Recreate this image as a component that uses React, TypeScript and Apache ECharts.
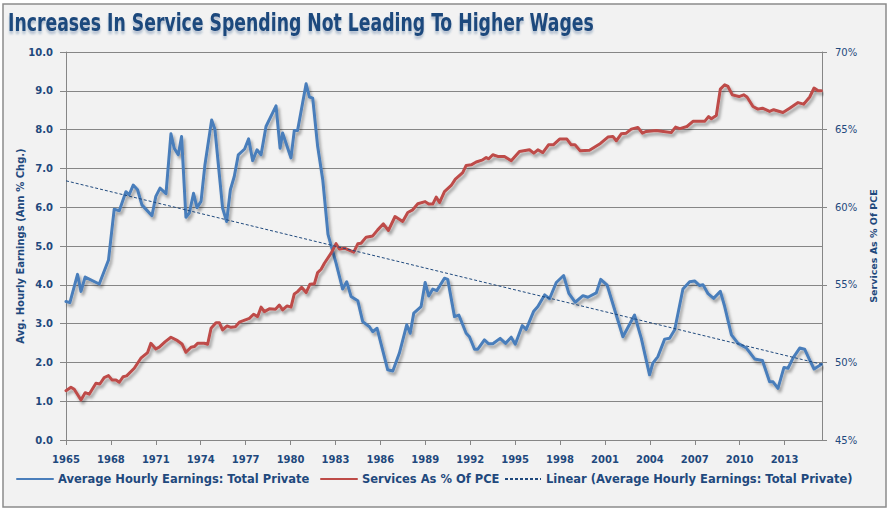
import React, { useEffect, useRef } from "react";
import * as echarts from "echarts";

const titleText = "Increases In Service Spending Not Leading To Higher Wages";
const earningsName = "Average Hourly Earnings: Total Private";
const pceName = "Services As % Of PCE";
const trendName = "Linear (Average Hourly Earnings: Total Private)";

const earningsYears = [
  1965.0, 1965.26, 1965.77, 1966.0, 1966.28, 1967.22, 1967.84, 1968.22, 1968.56, 1969.0,
  1969.22, 1969.49, 1969.78, 1970.07, 1970.74, 1971.0, 1971.28, 1971.68, 1972.01, 1972.23,
  1972.5, 1972.72, 1973.01, 1973.24, 1973.52, 1973.75, 1974.02, 1974.28, 1974.73, 1974.95,
  1975.46, 1975.73, 1975.98, 1976.24, 1976.51, 1976.93, 1977.2, 1977.47, 1977.76, 1978.03,
  1978.36, 1979.03, 1979.3, 1979.47, 1980.03, 1980.25, 1980.47, 1981.04, 1981.26, 1981.48,
  1981.81, 1982.15, 1982.5, 1983.04, 1983.48, 1983.75, 1984.04, 1984.49, 1984.82, 1985.27,
  1985.49, 1985.78, 1986.49, 1986.83, 1987.27, 1987.76, 1987.99, 1988.23, 1988.72, 1988.99,
  1989.23, 1989.5, 1989.77, 1990.28, 1990.5, 1990.95, 1991.24, 1991.73, 1991.95, 1992.29,
  1992.51, 1992.95, 1993.24, 1993.51, 1994.0, 1994.36, 1994.74, 1995.01, 1995.48, 1995.74,
  1996.23, 1996.52, 1996.97, 1997.3, 1997.75, 1998.24, 1998.59, 1999.02, 1999.53, 1999.86,
  2000.42, 2000.72, 2001.15, 2002.2, 2002.98, 2003.43, 2003.98, 2004.2, 2004.54, 2004.99,
  2005.32, 2005.66, 2006.21, 2006.66, 2006.99, 2007.33, 2007.55, 2007.89, 2008.26, 2008.71,
  2009.0, 2009.45, 2009.89, 2010.45, 2011.0, 2011.52, 2012.0, 2012.23, 2012.56, 2012.96,
  2013.23, 2013.56, 2014.01, 2014.34, 2014.68, 2014.97, 2015.46,
];
const earningsValues = [
  3.57, 3.54, 4.27, 3.83, 4.2, 4.02, 4.64, 5.95, 5.91, 6.4,
  6.32, 6.57, 6.45, 6.06, 5.78, 6.28, 6.49, 6.35, 7.89, 7.52,
  7.35, 7.82, 5.74, 5.85, 6.36, 5.99, 6.15, 7.09, 8.25, 8.0,
  5.98, 5.63, 6.45, 6.79, 7.35, 7.5, 7.76, 7.2, 7.48, 7.35,
  8.08, 8.61, 7.52, 7.91, 7.27, 7.98, 7.98, 9.18, 8.84, 8.81,
  7.57, 6.71, 5.3, 4.56, 3.89, 4.08, 3.7, 3.59, 3.05, 2.92,
  2.79, 2.88, 1.81, 1.78, 2.24, 2.97, 2.75, 3.27, 3.44, 4.06,
  3.71, 3.89, 3.85, 4.17, 4.14, 3.18, 3.22, 2.75, 2.66, 2.34,
  2.34, 2.58, 2.48, 2.48, 2.62, 2.49, 2.65, 2.47, 2.95, 2.85,
  3.31, 3.44, 3.74, 3.64, 4.06, 4.24, 3.78, 3.55, 3.72, 3.68,
  3.79, 4.14, 3.99, 2.66, 3.22, 2.62, 1.68, 1.98, 2.15, 2.6,
  2.62, 2.84, 3.89, 4.08, 4.1, 3.98, 4.0, 3.77, 3.65, 3.83,
  3.44, 2.71, 2.49, 2.37, 2.09, 2.05, 1.5, 1.5, 1.33, 1.87,
  1.85, 2.11, 2.37, 2.34, 2.06, 1.83, 1.95,
];

const pceYears = [
  1965.0, 1965.33, 1965.55, 1966.0, 1966.28, 1966.55, 1967.0, 1967.26, 1967.55, 1967.84,
  1968.07, 1968.34, 1968.56, 1968.82, 1969.05, 1969.56, 1970.0, 1970.45, 1970.67, 1971.0,
  1971.23, 1971.63, 1972.01, 1972.45, 1972.75, 1973.01, 1973.35, 1973.57, 1973.79, 1974.24,
  1974.46, 1974.69, 1975.02, 1975.24, 1975.46, 1975.76, 1976.02, 1976.31, 1976.58, 1977.25,
  1977.53, 1977.8, 1978.03, 1978.25, 1978.58, 1978.99, 1979.25, 1979.47, 1979.77, 1980.03,
  1980.25, 1980.47, 1980.74, 1981.04, 1981.3, 1981.59, 1981.81, 1982.04, 1982.26, 1982.71,
  1983.04, 1983.26, 1983.6, 1984.22, 1984.49, 1984.71, 1985.05, 1985.49, 1985.82, 1986.2,
  1986.54, 1986.98, 1987.49, 1987.83, 1988.16, 1988.5, 1988.99, 1989.23, 1989.5, 1989.73,
  1989.95, 1990.28, 1990.73, 1991.01, 1991.5, 1991.73, 1992.07, 1992.4, 1992.84, 1993.07,
  1993.24, 1993.51, 1993.84, 1994.29, 1994.74, 1995.29, 1995.96, 1996.25, 1996.52, 1996.85,
  1997.23, 1997.55, 1997.97, 1998.46, 1998.75, 1999.0, 1999.35, 1999.97, 2000.7, 2001.2,
  2001.53, 2001.76, 2002.09, 2002.42, 2002.76, 2003.2, 2003.5, 2003.76, 2004.43, 2004.9,
  2005.43, 2005.72, 2006.0, 2006.48, 2006.88, 2007.66, 2007.93, 2008.11, 2008.44, 2008.71,
  2009.0, 2009.22, 2009.51, 2009.96, 2010.27, 2010.49, 2010.89, 2011.22, 2011.52, 2012.0,
  2012.27, 2012.89, 2013.34, 2013.9, 2014.27, 2014.68, 2014.97, 2015.24, 2015.46,
];
const pceValues = [
  48.18, 48.4, 48.27, 47.58, 48.05, 47.95, 48.66, 48.61, 49.02, 49.15,
  48.87, 48.87, 48.72, 49.08, 49.13, 49.62, 50.27, 50.63, 51.23, 50.87,
  50.98, 51.34, 51.62, 51.4, 51.19, 50.65, 50.98, 51.02, 51.23, 51.23,
  51.17, 52.2, 52.56, 52.56, 52.09, 52.35, 52.26, 52.3, 52.59, 52.84,
  53.1, 52.95, 53.56, 53.27, 53.45, 53.43, 53.7, 53.38, 53.64, 53.56,
  54.41, 54.56, 54.84, 54.5, 55.04, 55.06, 55.79, 56.0, 56.39, 57.04,
  57.65, 57.31, 57.36, 57.1, 57.64, 57.68, 58.07, 58.15, 58.54, 58.93,
  58.5, 59.4, 59.08, 59.66, 59.83, 60.22, 60.36, 60.2, 60.2, 60.65,
  60.3, 61.01, 61.4, 61.81, 62.23, 62.69, 62.73, 62.91, 63.05, 63.2,
  63.12, 63.38, 63.27, 63.27, 62.99, 63.59, 63.7, 63.48, 63.7, 63.52,
  64.02, 64.02, 64.39, 64.39, 64.02, 64.02, 63.63, 63.67, 64.11, 64.52,
  64.56, 64.28, 64.73, 64.77, 65.03, 65.14, 64.77, 64.88, 64.94, 64.88,
  64.81, 65.16, 65.06, 65.2, 65.53, 65.53, 65.84, 65.7, 65.91, 67.61,
  67.89, 67.78, 67.24, 67.13, 67.24, 67.1, 66.49, 66.32, 66.38, 66.17,
  66.28, 66.1, 66.38, 66.74, 66.64, 67.1, 67.68, 67.5, 67.5,
];

const trendYears = [1965, 2015.5];
const trendValues = [6.68, 1.95];

const leftTicks = { min: 0, max: 10, interval: 1 };
const rightTicks = { min: 45, max: 70, interval: 5 };
const xTicks = { min: 1965, max: 2015.5, interval: 3 };

const TEXT = "#1F497D";
const GRID = "#868686";
const FONT = "'DejaVu Sans', Verdana, sans-serif";

export default function App() {
  const ref = useRef<HTMLDivElement>(null);
  useEffect(() => {
    document.body.style.margin = "0";
    const chart = echarts.init(ref.current!, undefined, { renderer: "svg" });
    const pair = (xs: number[], ys: number[]) => xs.map((x, i) => [x, ys[i]]);
    const shadow = {
      shadowColor: "rgba(0,0,0,0.35)",
      shadowBlur: 3,
      shadowOffsetX: 2,
      shadowOffsetY: 3,
    };
    const legendBase = {
      top: 473,
      padding: 0,
      itemWidth: 36,
      itemHeight: 14,
      itemStyle: { opacity: 0, borderWidth: 0 },
      textStyle: { color: TEXT, fontFamily: FONT, fontWeight: "bold", fontSize: 11.5 },
    };
    chart.setOption({
      animation: false,
      backgroundColor: "#ffffff",
      graphic: [
        {
          type: "rect",
          shape: { x: 3, y: 4, width: 883, height: 503 },
          style: { fill: "#F2F2F2", stroke: "#8C8C8C", lineWidth: 1.5 },
          z: -10,
          silent: true,
        },
        {
          type: "text",
          x: 8,
          y: 23,
          scaleX: 0.8,
          style: {
            text: titleText,
            fill: TEXT,
            font: "bold 24px 'DejaVu Sans Condensed', 'DejaVu Sans', sans-serif",
            textVerticalAlign: "middle",
            verticalAlign: "middle",
            textShadowColor: "rgba(31,73,125,0.3)",
            textShadowBlur: 2,
            textShadowOffsetY: 3,
          },
          z: 10,
        },
      ],
      legend: [
        { ...legendBase, left: 16, data: [earningsName] },
        { ...legendBase, left: 320, data: [pceName] },
        { ...legendBase, left: 504, data: [trendName] },
      ],
      grid: { left: 66, right: 71, top: 52, bottom: 72 },
      xAxis: {
        type: "value",
        min: xTicks.min,
        max: xTicks.max,
        interval: xTicks.interval,
        splitLine: { show: false },
        axisLine: { show: true, lineStyle: { color: GRID, width: 1 } },
        axisTick: { show: true, length: 5, lineStyle: { color: GRID } },
        axisLabel: {
          color: TEXT,
          fontFamily: FONT,
          fontWeight: "bold",
          fontSize: 10,
          margin: 14,
          showMaxLabel: false,
          formatter: (v: number) =>
            Number.isInteger(v) && (v - xTicks.min) % xTicks.interval === 0 ? String(v) : "",
        },
      },
      yAxis: [
        {
          type: "value",
          min: leftTicks.min,
          max: leftTicks.max,
          interval: leftTicks.interval,
          name: "Avg. Hourly Earnings (Ann % Chg.)",
          nameLocation: "middle",
          nameGap: 41,
          nameMoveOverlap: false,
          nameTextStyle: { color: TEXT, fontFamily: FONT, fontWeight: "bold", fontSize: 10 },
          axisLine: { show: true, lineStyle: { color: GRID, width: 1 } },
          axisTick: { show: true, length: 6, lineStyle: { color: GRID } },
          splitLine: { show: true, lineStyle: { color: GRID, width: 1 } },
          axisLabel: {
            color: TEXT,
            fontFamily: FONT,
            fontWeight: "bold",
            fontSize: 10,
            margin: 13,
            formatter: (v: number) => v.toFixed(1),
          },
        },
        {
          type: "value",
          min: rightTicks.min,
          max: rightTicks.max,
          interval: rightTicks.interval,
          position: "right",
          name: "Services As % Of PCE",
          nameLocation: "middle",
          nameGap: 44,
          nameRotate: 90,
          nameTextStyle: { color: TEXT, fontFamily: FONT, fontWeight: "bold", fontSize: 9.5 },
          axisLine: { show: true, lineStyle: { color: GRID, width: 1 } },
          axisTick: { show: true, length: 5, lineStyle: { color: GRID } },
          splitLine: { show: false },
          axisLabel: {
            color: TEXT,
            fontFamily: FONT,
            fontSize: 10,
            margin: 13,
            formatter: (v: number) => v + "%",
          },
        },
      ],
      series: [
        {
          name: earningsName,
          type: "line",
          yAxisIndex: 0,
          data: pair(earningsYears, earningsValues),
          showSymbol: false,
          symbol: "none",
          lineStyle: { color: "#4A7EBB", width: 3, cap: "round", join: "round", ...shadow },
          itemStyle: { color: "#4A7EBB" },
        },
        {
          name: pceName,
          type: "line",
          yAxisIndex: 1,
          data: pair(pceYears, pceValues),
          showSymbol: false,
          symbol: "none",
          lineStyle: { color: "#BE4B48", width: 3, cap: "round", join: "round", ...shadow },
          itemStyle: { color: "#BE4B48" },
        },
        {
          name: trendName,
          type: "line",
          yAxisIndex: 0,
          data: pair(trendYears, trendValues),
          showSymbol: false,
          symbol: "none",
          lineStyle: { color: "#1F497D", width: 1, type: [3, 2] },
          itemStyle: { color: "#1F497D" },
        },
      ],
    });
    return () => chart.dispose();
  }, []);
  return (
    <div
      ref={ref}
      style={{ position: "absolute", left: 0, top: 0, width: 893, height: 512 }}
    />
  );
}
